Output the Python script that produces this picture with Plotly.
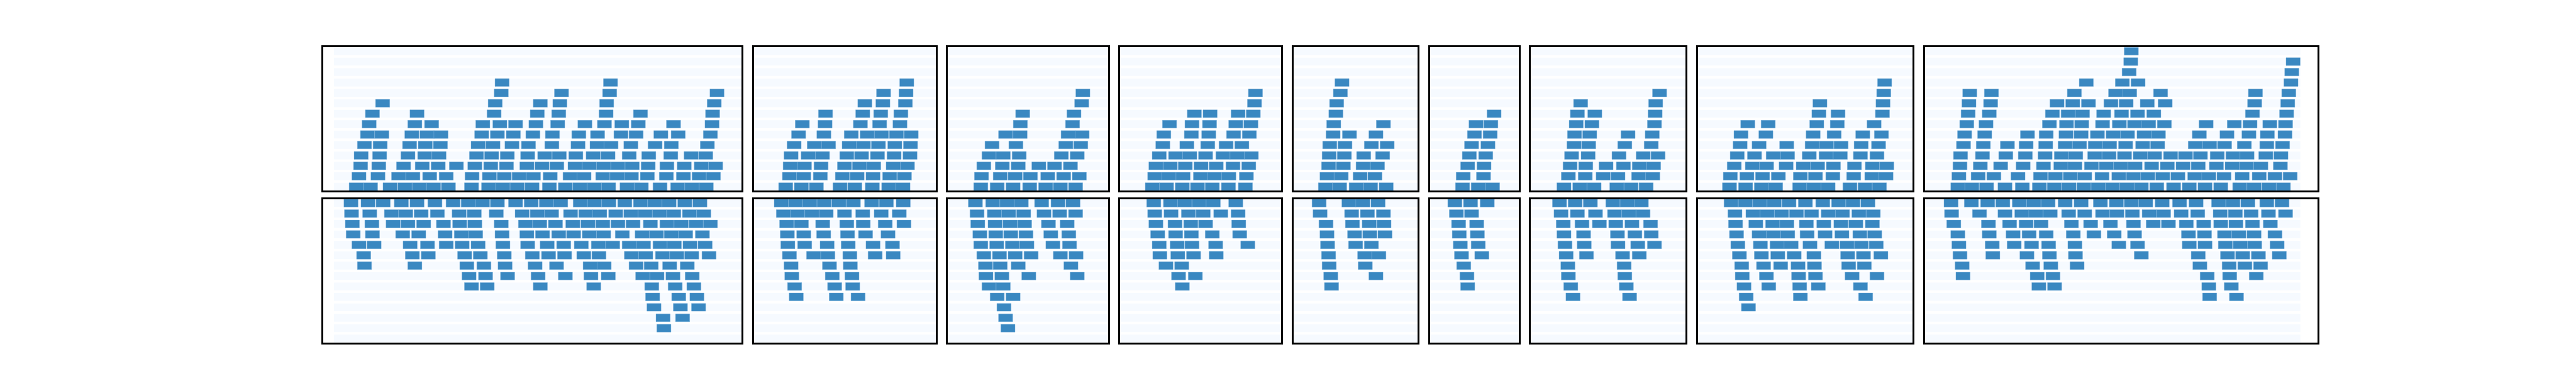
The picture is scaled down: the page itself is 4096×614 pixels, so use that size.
import plotly.graph_objects as go

# ---------------------------------------------------------------
# Data: for every panel, the start position of each box, grouped by
# stack level (level 0 = next to the shared middle edge).
# Units are the panel's own x-axis units.
# ---------------------------------------------------------------
p1_top = [
    [122, 174, 245, 299, 351, 403, 457, 541, 603, 655, 707, 761, 824, 882, 935, 987, 1039, 1106, 1158, 1226, 1290, 1342, 1394],
    [132, 201, 276, 328, 389, 449, 543, 606, 660, 714, 766, 827, 899, 950, 1018, 1070, 1122, 1180, 1249, 1311, 1368, 1420],
    [138, 204, 294, 362, 420, 486, 553, 611, 668, 742, 797, 851, 917, 969, 1021, 1073, 1125, 1183, 1251, 1314, 1376, 1428],
    [140, 207, 310, 371, 423, 559, 614, 671, 745, 807, 860, 920, 983, 1037, 1114, 1185, 1265, 1339, 1392],
    [152, 209, 316, 373, 428, 565, 619, 688, 748, 833, 928, 997, 1048, 1120, 1208, 1267, 1398],
    [163, 215, 324, 379, 430, 578, 635, 693, 764, 835, 931, 999, 1084, 1139, 1229, 1292, 1409],
    [169, 335, 396, 582, 644, 701, 775, 854, 953, 1024, 1087, 1147, 1275, 1415],
    [181, 343, 623, 780, 858, 1030, 1155, 1417],
    [218, 627, 791, 862, 1032, 1423],
    [649, 868, 1043, 1433],
    [652, 1046],
]
p1_bot = [
    [103, 165, 220, 286, 343, 408, 474, 529, 581, 635, 701, 758, 813, 865, 936, 988, 1040, 1098, 1155, 1207, 1259, 1316, 1371],
    [105, 171, 250, 302, 358, 417, 496, 551, 631, 725, 780, 832, 901, 956, 1007, 1065, 1120, 1172, 1224, 1276, 1333, 1385],
    [108, 179, 256, 310, 367, 439, 498, 553, 649, 737, 789, 846, 909, 964, 1018, 1073, 1128, 1191, 1251, 1303, 1357, 1409],
    [111, 181, 291, 349, 445, 504, 556, 652, 742, 799, 858, 912, 969, 1021, 1089, 1161, 1213, 1267, 1319, 1380],
    [132, 187, 318, 381, 449, 507, 565, 655, 745, 816, 876, 940, 1002, 1054, 1114, 1166, 1226, 1278, 1335, 1390],
    [149, 326, 384, 516, 573, 660, 762, 821, 879, 949, 1004, 1122, 1174, 1235, 1287, 1341, 1404],
    [152, 335, 524, 586, 663, 772, 850, 972, 1023, 1139, 1194, 1261, 1325],
    [532, 592, 672, 783, 882, 975, 1038, 1163, 1215, 1273, 1343],
    [541, 598, 791, 985, 1196, 1281, 1349],
    [1199, 1294, 1360],
    [1204, 1300, 1366],
    [1237, 1308],
    [1240],
]
p2_top = [
    [135, 202, 266, 367, 430, 505, 575, 636],
    [151, 212, 283, 377, 440, 508, 579, 642],
    [154, 215, 286, 386, 450, 511, 594, 655],
    [158, 231, 292, 396, 459, 527, 598, 666],
    [171, 257, 318, 406, 467, 531, 601, 668],
    [190, 298, 415, 483, 544, 608, 671],
    [206, 303, 454, 536, 623],
    [305, 464, 541, 627],
    [473, 550, 646],
    [553, 649],
    [652],
]
p2_bot = [
    [116, 177, 238, 299, 362, 424, 502, 565, 637],
    [125, 186, 247, 308, 386, 464, 543, 620],
    [139, 202, 293, 396, 466, 560, 640],
    [142, 212, 297, 399, 476, 572],
    [144, 216, 312, 402, 508, 591],
    [151, 254, 315, 409, 517, 594],
    [158, 322, 411],
    [161, 334, 418],
    [173, 344, 421],
    [180, 351, 444],
]
p3_top = [
    [968, 1038, 1106, 1177, 1245, 1308, 1373],
    [971, 1051, 1115, 1180, 1254, 1322, 1389],
    [981, 1060, 1128, 1216, 1283, 1351],
    [1003, 1064, 1132, 1312, 1380],
    [1016, 1118, 1331, 1395],
    [1074, 1136, 1341, 1401],
    [1137, 1360],
    [1147, 1366],
    [1399],
    [1404],
]
p3_bot = [
    [945, 1019, 1080, 1141, 1228, 1298, 1362],
    [952, 1026, 1087, 1151, 1238, 1305, 1373],
    [955, 1029, 1093, 1155, 1257, 1337],
    [964, 1032, 1096, 1161, 1267, 1344],
    [968, 1036, 1103, 1165, 1276, 1347],
    [981, 1048, 1115, 1183, 1308, 1375],
    [988, 1051, 1128, 1353],
    [990, 1058, 1173, 1380],
    [1003, 1064],
    [1038, 1106],
    [1067],
    [1074],
    [1084],
]
p4_top = [
    [158, 230, 310, 387, 462, 544, 630],
    [170, 242, 314, 402, 474, 546, 635],
    [176, 249, 325, 405, 482, 567, 647],
    [193, 276, 348, 428, 516, 588, 660],
    [211, 333, 439, 532, 612],
    [216, 356, 444, 570, 650],
    [245, 359, 448, 581, 658],
    [371, 451, 593, 670],
    [676],
    [681],
]
p4_bot = [
    [165, 250, 322, 395, 467, 581],
    [170, 253, 341, 416, 505, 593],
    [176, 273, 353, 428, 596],
    [185, 276, 356, 462, 601],
    [193, 284, 359, 479, 642],
    [196, 287, 367, 482],
    [227, 307],
    [291, 376],
    [310],
]
p5_top = [
    [1036, 1108, 1192, 1265, 1344],
    [1044, 1116, 1212, 1287],
    [1052, 1127, 1227, 1300],
    [1055, 1132, 1230, 1326],
    [1058, 1135, 1269, 1349],
    [1075, 1158, 1292],
    [1078, 1330],
    [1089],
    [1093],
    [1112],
    [1120],
]
p5_bot = [
    [1004, 1155, 1226, 1303],
    [1009, 1169, 1249, 1330],
    [1039, 1173, 1258, 1333],
    [1044, 1184, 1261, 1338],
    [1047, 1189, 1269],
    [1052, 1235, 1307],
    [1055, 1238],
    [1063, 1292],
    [1067],
]
p6_top = [
    [189, 281, 365],
    [193, 312],
    [219, 315],
    [229, 325],
    [242, 338],
    [259, 351],
    [268, 355],
    [374],
]
p6_bot = [
    [144, 236, 334],
    [153, 242],
    [166, 272],
    [170, 276],
    [176, 281],
    [183, 302],
    [196],
    [215],
    [219],
]
p7_top = [
    [784, 877, 961, 1094, 1178, 1266],
    [810, 909, 1014, 1101, 1222, 1305],
    [820, 912, 1031, 1133, 1226, 1310],
    [829, 926, 1107, 1249, 1336],
    [843, 929, 1141, 1296],
    [846, 935, 1160, 1302],
    [856, 948, 1315],
    [863, 965, 1319],
    [882, 1322],
    [1345],
]
p7_bot = [
    [758, 850, 939, 1071, 1155, 1238],
    [767, 863, 969, 1081, 1165, 1248],
    [780, 890, 992, 1088, 1183, 1292],
    [784, 899, 1098, 1200, 1296],
    [790, 903, 1101, 1217, 1315],
    [797, 916, 1128, 1226],
    [807, 1137],
    [810, 1141],
    [824, 1150],
    [837, 1169],
]
p8_top = [
    [222, 334, 444, 543, 710, 809, 908, 1060, 1165, 1265],
    [228, 343, 452, 562, 715, 820, 941, 1086, 1212, 1311],
    [255, 381, 480, 616, 735, 835, 945, 1091, 1216, 1316],
    [276, 396, 526, 626, 777, 894, 993, 1133, 1248],
    [296, 428, 620, 797, 897, 998, 1138, 1259],
    [302, 475, 804, 950, 1149, 1279],
    [349, 491, 829, 972, 1228],
    [844, 977, 1286],
    [851, 1290],
    [1295],
    [1301],
]
p8_bot = [
    [233, 333, 433, 533, 636, 750, 871, 981, 1081, 1185],
    [260, 385, 484, 584, 688, 793, 909, 1008, 1122, 1222],
    [264, 405, 522, 621, 757, 878, 997, 1101, 1216],
    [271, 428, 527, 627, 762, 887, 1004, 1129, 1232],
    [280, 437, 553, 651, 782, 934, 1039, 1139, 1243],
    [291, 444, 558, 672, 809, 1044, 1154, 1275],
    [307, 459, 578, 699, 813, 1051, 1160],
    [311, 479, 703, 820, 1075, 1248],
    [323, 495, 710, 840, 1133],
    [338, 715, 1169],
    [354],
]
p9_top = [
    [188, 240, 294, 362, 426, 489, 544, 598, 653, 706, 759, 812, 865, 922, 984, 1042, 1100, 1158, 1228, 1281, 1336, 1389],
    [192, 263, 321, 410, 493, 548, 603, 656, 720, 782, 836, 889, 944, 1000, 1062, 1114, 1170, 1237, 1300, 1358, 1414],
    [196, 271, 346, 429, 504, 568, 620, 681, 736, 789, 842, 903, 961, 1019, 1075, 1142, 1200, 1253, 1306, 1378],
    [198, 279, 365, 437, 510, 570, 623, 693, 746, 803, 861, 914, 973, 1028, 1083, 1145, 1203, 1255, 1324, 1380],
    [209, 282, 371, 440, 512, 584, 637, 695, 748, 807, 870, 925, 1064, 1117, 1172, 1245, 1328, 1386],
    [213, 287, 445, 514, 587, 643, 703, 761, 814, 875, 928, 1079, 1181, 1262, 1330, 1395],
    [221, 292, 526, 589, 645, 722, 784, 840, 892, 950, 1104, 1208, 1266, 1339, 1397],
    [226, 304, 537, 595, 648, 726, 792, 851, 911, 1275, 1401],
    [229, 309, 554, 612, 670, 753, 809, 887, 953, 1283, 1405],
    [232, 312, 618, 770, 822, 936, 1286, 1409],
    [662, 795, 853, 1417],
    [820, 1420],
    [826, 1425],
    [828],
]
p9_bot = [
    [163, 238, 298, 354, 415, 468, 521, 584, 643, 714, 773, 828, 881, 942, 1006, 1067, 1150, 1203, 1258, 1328, 1384],
    [165, 268, 362, 424, 476, 529, 597, 656, 722, 775, 832, 894, 947, 1012, 1073, 1156, 1212, 1270, 1334, 1397],
    [173, 301, 379, 440, 495, 607, 678, 751, 836, 909, 965, 1031, 1095, 1158, 1214, 1275, 1341],
    [188, 304, 392, 451, 514, 614, 690, 765, 840, 1039, 1098, 1172, 1225, 1281, 1358],
    [192, 315, 396, 460, 523, 620, 782, 851, 1042, 1100, 1175, 1230, 1283, 1366],
    [196, 317, 443, 526, 622, 865, 1075, 1183, 1239, 1297, 1374],
    [204, 464, 531, 628, 1081, 1189, 1247, 1305],
    [207, 481, 539, 1108, 1191, 1289],
    [487, 545, 1114, 1197],
    [1117, 1216],
]

TOP = [p1_top, p2_top, p3_top, p4_top, p5_top, p6_top, p7_top, p8_top, p9_top]
BOT = [p1_bot, p2_bot, p3_bot, p4_bot, p5_bot, p6_bot, p7_bot, p8_bot, p9_bot]

# x-axis extent of each panel (its own units) and the box width in those units
x_ranges = [(26.9, 1548.0), (30.3, 806.0), (858.0, 1543.0), (31.0, 846.0), (910.0, 1540.0),
            (39.7, 559.0), (631.0, 1539.6), (51.5, 1545.6), (93.9, 1540.8)]
box_width = [51.5, 60.5, 60.5, 71.9, 71.9, 83.1, 83.1, 98.6, 52.3]
band_start_first = 67.0     # background bands begin here in panel 1
band_end_last = 1478.0      # and end here in panel 9
N_LEVELS = 14
BOX_H = 0.75

# ---------------- layout (positions in reference px of 8000x1200) -------------
PAGE_MARGIN = 8            # default body margin of the html page
W, H = 4096 - PAGE_MARGIN, 614 - PAGE_MARGIN
SCALE = 0.512
col_px = [(1003, 2303), (2342, 2906), (2944, 3442), (3479, 3978), (4017, 4403),
          (4441, 4716), (4754, 5235), (5273, 5940), (5979, 7197)]
row_px = [(147, 592), (619, 1064)]


def fx(px):
    return (px * SCALE - PAGE_MARGIN) / W


def fy(px):
    return 1 - (px * SCALE - PAGE_MARGIN) / H


BOX_COLOR = "#3a88c1"
BAND_COLOR = "#f6faff"

fig = go.Figure()
layout = dict(width=W, height=H, margin=dict(l=0, r=0, t=0, b=0),
              paper_bgcolor="white", plot_bgcolor="white",
              barmode="overlay", showlegend=False)

for half in range(2):
    data = TOP if half == 0 else BOT
    y0px, y1px = row_px[half]
    ydom = [fy(y1px), fy(y0px)]
    for p in range(9):
        idx = p + 1 + 9 * half
        xa = "x" if idx == 1 else f"x{idx}"
        ya = "y" if idx == 1 else f"y{idx}"
        lo, hi = x_ranges[p]
        b_lo = band_start_first if p == 0 else lo
        b_hi = band_end_last if p == 8 else hi
        levels = list(range(N_LEVELS))
        fig.add_trace(go.Bar(
            x=[b_lo] * N_LEVELS, y=[BOX_H] * N_LEVELS, base=levels,
            width=b_hi - b_lo, offset=0,
            marker=dict(color=BAND_COLOR, line=dict(width=0)),
            xaxis=xa, yaxis=ya, hoverinfo="skip"))
        xs, bases = [], []
        for lvl, starts in enumerate(data[p]):
            for s in starts:
                xs.append(s)
                bases.append(lvl)
        fig.add_trace(go.Bar(
            x=xs, y=[BOX_H] * len(xs), base=bases,
            width=box_width[p], offset=0,
            marker=dict(color=BOX_COLOR, line=dict(color="rgba(120,175,220,0.9)", width=0.5)),
            xaxis=xa, yaxis=ya, hoverinfo="skip"))
        c0, c1 = col_px[p]
        ax_common = dict(showline=True, mirror=True, linecolor="black", linewidth=3,
                         showgrid=False, zeroline=False, showticklabels=False,
                         ticks="", fixedrange=True)
        layout["xaxis" if idx == 1 else f"xaxis{idx}"] = dict(
            domain=[fx(c0), fx(c1)], range=[lo, hi], anchor=ya, **ax_common)
        yr = [0, N_LEVELS - 1 + BOX_H]
        if half == 1:
            yr = yr[::-1]
        layout["yaxis" if idx == 1 else f"yaxis{idx}"] = dict(
            domain=ydom, range=yr, anchor=xa, **ax_common)

fig.update_layout(**layout)
fig.write_html("out.html")
